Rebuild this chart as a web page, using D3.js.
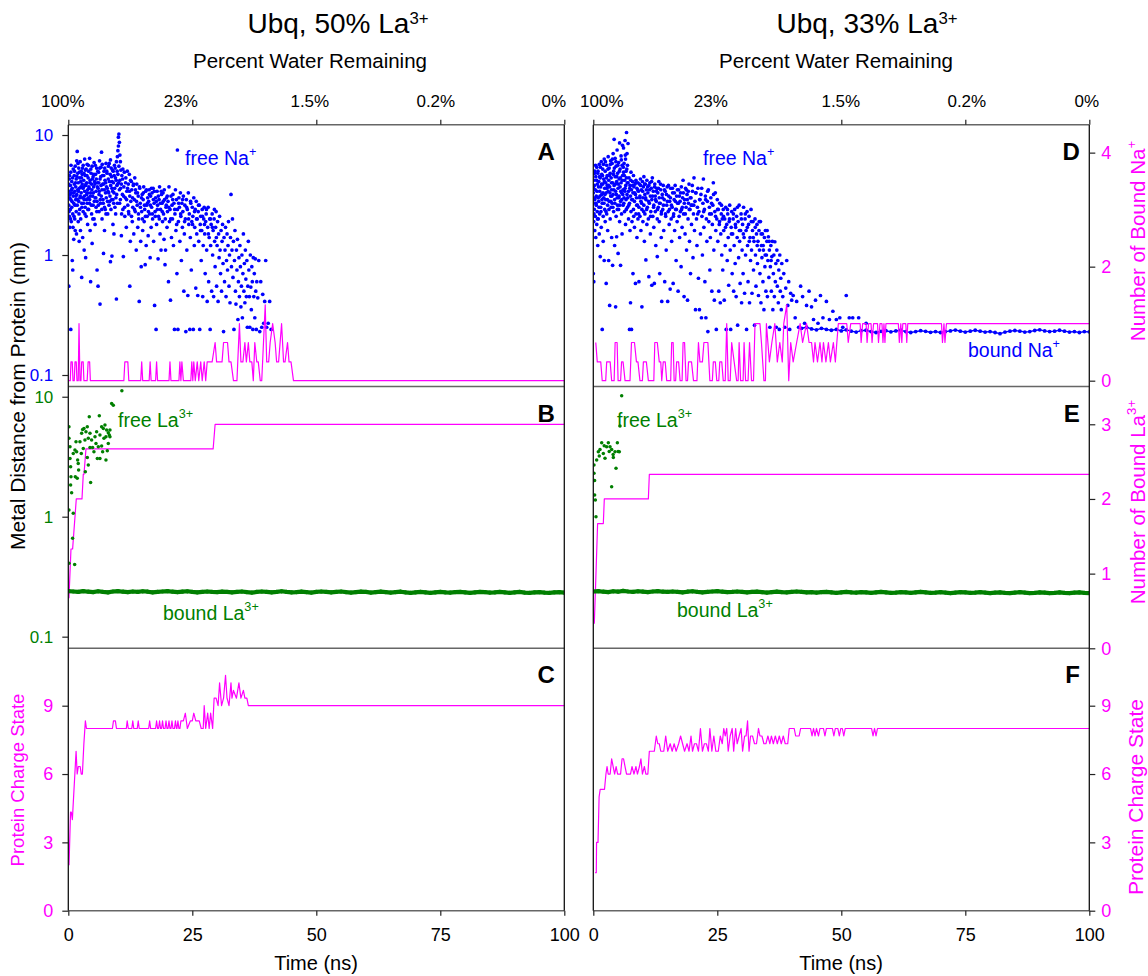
<!DOCTYPE html>
<html><head><meta charset="utf-8">
<script src="https://cdn.jsdelivr.net/npm/d3@7"></script>
<style>body{margin:0;background:#fff}svg{display:block}text{font-family:"Liberation Sans",Arial,Helvetica,sans-serif}</style>
</head><body><svg id="chart" width="1148" height="976"></svg>
<script>
// ---------------- DATA ----------------
const xTicks = [0, 25, 50, 75, 100];
const waterLabels = ["100%", "23%", "1.5%", "0.2%", "0%"];
const distTicks = [0.1, 1, 10];
const naCountTicks = [0, 2, 4];
const laCountTicks = [0, 1, 2, 3];
const chargeTicks = [0, 3, 6, 9];

// Panel A: free Na+ distance (nm) vs time (ns), 50% La3+
const naFreeA = [[0.1,2.6],[0.1,3.4],[0.1,0.55],[0.2,2.1],[0.2,4.3],[0.3,1.7],[0.3,3.0],[0.4,2.4],[0.4,3.8],[0.5,0.24],[0.5,2.9],[0.5,4.9],[0.6,1.9],[0.6,3.3],[0.7,2.5],[0.7,4.1],[0.8,0.9],[0.8,3.6],[0.9,2.2],[0.9,0.75],[1.0,3.1],[1.0,5.2],
[1.1,1.35],[1.1,2.7],[1.2,3.9],[1.2,4.6],[1.3,2.0],[1.3,3.4],[1.4,1.6],[1.4,5.5],[1.5,2.9],[1.5,3.7],[1.6,2.3],[1.6,4.3],[1.7,3.2],[1.7,6.1],[1.8,7.3],[1.8,2.6],[1.9,4.8],[1.9,3.5],[2.0,1.9],[2.0,4.0],
[2.1,2.8],[2.1,5.3],[2.2,3.6],[2.2,1.3],[2.3,4.4],[2.3,2.4],[2.4,3.1],[2.4,6.0],[2.5,4.1],[2.5,2.0],[2.6,3.3],[2.6,5.0],[2.7,0.65],[2.7,2.7],[2.8,4.7],[2.8,3.9],[2.9,1.4],[2.9,3.0],[3.0,5.6],[3.0,2.3],
[3.1,3.7],[3.1,4.2],[3.2,1.1],[3.2,2.9],[3.3,6.3],[3.3,3.4],[3.4,2.5],[3.4,4.6],[3.5,0.95],[3.5,3.8],[3.6,5.2],[3.6,2.1],[3.7,3.2],[3.7,4.0],[3.8,2.7],[3.8,5.7],[3.9,3.5],[3.9,1.8],[4.0,4.4],[4.0,3.0],
[4.1,2.4],[4.1,5.0],[4.2,3.6],[4.3,6.4],[4.3,2.9],[4.4,4.2],[4.4,1.6],[4.5,0.6],[4.5,3.3],[4.6,4.8],[4.7,2.2],[4.7,3.9],[4.8,5.5],[4.8,1.25],[4.9,3.1],[5.0,4.5],[5.0,2.6],
[5.1,3.7],[5.2,5.9],[5.2,2.0],[5.3,4.1],[5.4,3.0],[5.4,1.8],[5.5,4.7],[5.6,2.5],[5.6,3.4],[5.7,5.3],[5.8,0.75],[5.8,2.8],[5.9,4.0],[6.0,0.55],[6.0,3.6],
[6.1,4.9],[6.2,2.3],[6.2,3.2],[6.3,6.1],[6.4,0.39],[6.4,4.3],[6.5,2.7],[6.6,3.8],[6.6,5.4],[6.7,7.2],[6.8,2.0],[6.8,3.5],[6.9,4.6],[7.0,2.9],
[7.1,1.03],[7.1,3.9],[7.2,5.0],[7.3,1.6],[7.3,2.5],[7.4,4.2],[7.5,3.3],[7.6,5.8],[7.6,2.2],[7.7,3.7],[7.8,4.8],[7.9,2.8],[8.0,3.4],
[8.1,5.5],[8.2,2.6],[8.3,4.1],[8.4,3.1],[8.5,6.2],[8.5,0.88],[8.6,2.4],[8.7,4.5],[8.8,0.98],[8.8,3.6],[8.9,5.1],[9.0,1.8],[9.0,2.9],
[9.1,4.0],[9.2,1.5],[9.2,3.3],[9.3,5.6],[9.4,2.5],[9.5,4.4],[9.6,3.0],[9.7,6.0],[9.7,0.43],[9.8,3.8],[9.9,6.6],[9.9,2.7],[10.0,7.4],[10.0,4.7],
[10.1,8.1],[10.1,9.6],[10.2,10.2],[10.2,5.5],[10.3,8.7],[10.3,3.5],[10.4,6.8],[10.4,4.2],[10.5,6.0],[10.5,2.9],[10.6,5.1],[10.7,3.9],[10.7,1.45],[10.8,4.6],[10.9,3.2],[11.0,2.4],[11.0,5.2],
[11.1,0.97],[11.2,3.7],[11.3,4.9],[11.4,2.1],[11.5,3.0],[11.6,4.4],[11.7,1.7],[11.8,3.4],[11.9,5.0],[12.0,2.6],
[12.1,3.9],[12.2,2.2],[12.3,4.7],[12.4,0.55],[12.4,3.1],[12.5,1.3],[12.6,2.8],[12.7,4.1],[12.8,3.5],[12.9,1.9],[13.0,2.5],
[13.1,3.8],[13.2,1.5],[13.3,2.9],[13.4,4.4],[13.5,2.3],[13.6,3.3],[13.7,1.1],[13.8,3.9],[13.9,2.6],[14.0,1.7],
[14.1,3.1],[14.2,2.0],[14.3,0.41],[14.4,3.6],[14.5,2.7],[14.6,1.3],[14.7,0.8],[14.8,2.3],[14.9,3.2],[15.0,1.6],
[15.1,2.9],[15.2,3.7],[15.3,1.9],[15.4,2.4],[15.5,0.83],[15.6,3.4],[15.7,1.2],[15.8,2.6],[15.9,2.1],[16.0,3.0],
[16.1,1.45],[16.2,2.8],[16.3,3.5],[16.4,2.2],[16.5,0.95],[16.6,3.1],[16.7,1.7],[16.8,2.5],[16.9,3.3],[17.0,2.0],
[17.1,3.6],[17.2,1.3],[17.3,2.7],[17.4,0.38],[17.5,2.3],[17.6,3.0],[17.7,0.24],[17.8,1.8],[17.9,3.4],[18.0,2.6],
[18.1,0.93],[18.2,2.1],[18.3,2.9],[18.4,3.7],[18.5,1.5],[18.6,2.4],[18.7,1.1],[18.8,3.2],[18.9,2.7],[19.0,1.9],
[19.1,3.3],[19.2,2.2],[19.3,1.35],[19.4,2.9],[19.5,0.83],[19.6,1.1],[19.7,2.5],[19.8,3.0],[19.9,1.7],[20.0,2.3],
[20.1,2.8],[20.2,0.6],[20.3,3.7],[20.4,1.9],[20.5,2.4],[20.6,0.42],[20.7,3.1],[20.8,1.4],[20.9,2.6],[21.0,2.0],
[21.1,3.2],[21.2,1.2],[21.3,2.7],[21.4,0.24],[21.5,2.2],[21.6,3.5],[21.7,1.6],[21.8,2.9],[21.9,0.7],[22.0,2.4],[22.0,7.5],
[22.1,0.24],[22.2,1.9],[22.3,3.0],[22.4,2.5],[22.5,1.3],[22.6,3.3],[22.7,2.1],[22.8,0.9],[22.9,2.7],[23.0,1.7],
[23.1,2.3],[23.2,3.1],[23.3,0.5],[23.4,1.5],[23.5,2.6],[23.6,2.0],[23.7,0.23],[23.8,2.9],[23.9,1.1],[24.0,2.4],
[24.1,0.46],[24.2,3.3],[24.3,1.8],[24.4,2.2],[24.5,0.24],[24.6,1.4],[24.7,2.7],[24.8,0.75],[24.9,1.9],[25.0,2.5],
[25.1,2.1],[25.2,0.24],[25.3,3.0],[25.4,1.2],[25.5,1.7],[25.6,2.4],[25.7,0.53],[25.8,2.8],[25.9,1.5],[26.0,2.0],
[26.1,0.46],[26.2,2.3],[26.3,1.3],[26.4,2.6],[26.5,0.24],[26.6,1.8],[26.7,2.1],[26.8,0.9],[26.9,1.6],[27.0,2.4],
[27.1,0.45],[27.2,1.2],[27.3,2.0],[27.4,2.5],[27.5,1.5],[27.6,0.7],[27.7,1.9],[27.8,2.2],[27.9,1.1],[28.0,0.41],
[28.1,1.7],[28.2,2.5],[28.3,0.6],[28.4,1.4],[28.5,2.0],[28.6,0.24],[28.7,1.2],[28.8,1.8],[28.9,0.5],[29.0,2.2],
[29.1,1.0],[29.2,1.6],[29.3,0.45],[29.4,2.0],[29.5,1.3],[29.6,0.8],[29.7,1.7],[29.8,2.3],[29.9,0.55],[30.0,1.2],
[30.1,1.9],[30.2,0.41],[30.3,1.5],[30.4,0.95],[30.5,2.1],[30.6,1.1],[30.7,0.7],[30.8,1.6],[30.9,0.5],[31.0,1.3],
[31.1,1.8],[31.2,0.85],[31.3,0.23],[31.4,1.4],[31.5,0.6],[31.6,1.1],[31.7,1.7],[31.8,0.45],[31.9,0.9],[32.0,1.5],
[32.1,0.75],[32.2,1.2],[32.3,1.9],[32.4,0.55],[32.5,1.0],[32.6,0.4],[32.7,1.4],[32.8,3.2],[32.9,0.8],[33.0,1.1],
[33.1,2.0],[33.2,0.65],[33.3,1.3],[33.4,0.24],[33.5,0.9],[33.6,1.6],[33.7,0.5],[33.8,0.39],[33.9,1.1],[34.0,0.75],
[34.1,1.35],[34.2,0.29],[34.3,0.6],[34.4,0.95],[34.5,0.45],[34.6,1.2],[34.7,0.8],[34.8,0.37],[34.9,0.55],[35.0,1.0],
[35.1,0.3],[35.2,0.7],[35.3,1.5],[35.4,0.5],[35.5,0.85],[35.6,0.4],[35.7,1.1],[35.8,0.63],[35.9,0.45],[36.0,0.9],
[36.1,0.25],[36.2,0.55],[36.3,1.3],[36.4,0.75],[36.5,0.45],[36.6,0.25],[36.7,1.0],[36.8,0.54],[36.9,0.35],[37.0,0.8],
[37.1,0.6],[37.2,0.24],[37.3,0.95],[37.4,0.45],[37.5,0.7],[37.6,0.3],[37.7,0.93],[37.8,0.5],[37.9,0.24],[38.0,0.6],
[38.2,0.44],[38.4,0.9],[38.6,0.23],[38.8,0.6],[39.0,0.25],[39.2,0.47],[39.4,0.27],[39.6,0.41],[39.8,0.9],[40.0,0.25],[40.3,0.27],[40.6,0.41],[40.9,0.24],
[0.05,3.9],[0.15,2.3],[0.25,4.6],[0.35,3.2],[0.45,2.0],[0.55,5.6],[0.65,3.5],[0.75,2.8],[0.85,4.4],[0.95,1.7],[1.05,3.3],[1.15,2.1],[1.25,5.0],[1.35,2.6],[1.45,4.0],[1.55,3.1],[1.65,1.5],[1.75,4.5],[1.85,2.9],[1.95,5.8],
[2.05,3.4],[2.15,2.2],[2.25,4.9],[2.35,3.0],[2.45,1.6],[2.55,3.7],[2.65,4.4],[2.75,2.5],[2.85,5.3],[2.95,3.6],[3.05,2.7],[3.15,4.8],[3.25,3.1],[3.35,2.2],[3.45,5.1],[3.55,3.9],[3.65,2.9],[3.75,4.6],[3.85,3.3],[3.95,2.4],
[4.05,5.6],[4.15,3.7],[4.25,2.7],[4.35,4.0],[4.45,3.1],[4.55,5.2],[4.65,2.6],[4.75,3.5],[4.85,4.3],[4.95,2.0],[5.05,3.3],[5.15,4.7],[5.25,2.8],[5.35,3.9],[5.45,5.6],[5.55,3.0],[5.65,4.3],[5.75,2.3],[5.85,3.7],[5.95,5.0],
[6.05,2.6],[6.15,4.0],[6.25,3.4],[6.35,5.3],[6.45,2.9],[6.55,4.5],[6.65,3.1],[6.75,2.4],[6.85,5.7],[6.95,3.9],[7.05,2.7],[7.15,4.6],[7.25,3.5],[7.35,5.3],[7.45,2.4],[7.55,4.0],[7.65,3.0],[7.75,5.0],[7.85,3.6],[7.95,2.2],
[8.05,4.3],[8.15,3.3],[8.25,5.8],[8.35,2.8],[8.45,4.7],[8.55,3.8],[8.65,5.3],[8.75,2.9],[8.85,4.1],[8.95,3.4],[9.05,5.0],[9.15,2.7],[9.25,4.6],[9.35,3.6],[9.45,5.3],[9.55,2.2],[9.65,4.2],[9.75,3.2],[9.85,5.0],[9.95,3.9],
[10.15,4.0],[10.35,2.7],[10.55,3.6],[10.75,2.2],[10.95,4.3],[11.15,3.1],[11.35,2.5],[11.55,4.0],[11.75,2.9],[11.95,3.6],[12.15,2.3],[12.35,3.4],[12.55,4.2],[12.75,2.1],[12.95,3.0],[13.15,3.9],[13.35,2.4],[13.55,3.5],[13.75,2.8],[13.95,3.3],
[14.15,2.2],[14.35,3.7],[14.55,2.5],[14.75,3.0],[14.95,2.0],[15.15,3.3],[15.35,2.6],[15.55,2.1],[15.75,3.5],[15.95,2.7],[16.15,2.3],[16.35,3.2],[16.55,2.6],[16.75,3.6],[16.95,2.2],[17.15,2.9],[17.35,3.4],[17.55,2.1],[17.75,2.8],[17.95,2.4],
[18.15,3.1],[18.35,2.0],[18.55,2.7],[18.75,3.4],[18.95,2.3],[19.15,2.8],[19.35,3.5],[19.55,2.0],[19.75,2.6],[19.95,3.1],
[20.25,2.5],[20.65,2.0],[21.05,2.9],[21.45,2.4],[21.85,1.8],[22.25,2.7],[22.65,2.2],[23.05,2.9],[23.45,1.9],[23.85,2.5],[24.25,2.0],[24.65,2.8],[25.05,1.8],[25.45,2.3],[25.85,2.0],[26.25,2.6],[26.65,1.6],[27.05,2.1],[27.45,1.8],[27.85,2.4],[28.25,1.5],[28.65,2.0],[29.05,1.7],[29.45,2.4],[29.85,1.4]];

// Panel D: free Na+ distance (nm) vs time (ns), 33% La3+
const naFreeD = [[0.0,2.7],[0.0,3.3],[0.0,0.7],[0.1,1.9],[0.1,4.2],[0.1,0.6],[0.2,2.4],[0.2,3.8],[0.3,1.6],[0.3,2.9],[0.3,5.0],[0.4,3.5],[0.4,2.1],[0.5,4.5],[0.5,1.4],[0.6,2.6],[0.6,3.1],[0.7,5.4],[0.7,1.8],[0.8,3.9],[0.8,2.3],[0.9,4.8],[0.9,1.2],[1.0,3.0],[1.0,2.0],
[1.1,4.1],[1.1,2.8],[1.2,5.7],[1.2,1.5],[1.3,3.4],[1.3,2.2],[1.4,0.97],[1.4,4.4],[1.5,3.7],[1.5,2.5],[1.6,6.0],[1.6,1.7],[1.7,3.2],[1.7,4.7],[1.8,0.24],[1.8,2.7],[1.9,3.9],[1.9,5.2],[2.0,2.1],[2.0,1.3],
[2.1,4.3],[2.1,3.0],[2.2,0.9],[2.2,6.3],[2.3,2.4],[2.3,3.6],[2.4,5.0],[2.4,1.9],[2.5,4.0],[2.5,2.9],[2.6,0.58],[2.6,3.3],[2.7,5.6],[2.7,2.2],[2.8,4.6],[2.8,3.8],[2.9,1.6],[2.9,2.6],[3.0,6.6],[3.0,3.4],
[3.1,4.2],[3.1,0.9],[3.2,2.8],[3.2,5.3],[3.3,3.7],[3.3,0.38],[3.4,2.0],[3.4,4.8],[3.5,3.1],[3.5,6.1],[3.6,2.5],[3.6,4.4],[3.7,1.4],[3.7,3.5],[3.8,5.8],[3.8,2.7],[3.9,4.0],[3.9,0.82],[4.0,3.2],[4.0,7.0],
[4.1,2.3],[4.1,5.0],[4.2,3.8],[4.2,9.2],[4.3,2.9],[4.3,1.2],[4.4,4.5],[4.4,6.4],[4.5,3.4],[4.5,0.37],[4.6,2.1],[4.6,5.5],[4.7,4.1],[4.7,1.42],[4.8,3.0],[4.8,7.5],[4.9,2.6],[4.9,4.8],[5.0,3.6],[5.0,1.03],
[5.1,5.9],[5.1,2.4],[5.2,4.3],[5.2,3.1],[5.3,8.6],[5.3,1.9],[5.4,5.2],[5.4,3.7],[5.5,2.8],[5.5,0.82],[5.6,6.7],[5.6,4.0],[5.7,3.3],[5.7,2.2],[5.8,5.6],[5.8,1.5],[5.9,4.6],[5.9,8.2],[6.0,3.5],[6.0,2.6],
[6.1,7.8],[6.1,4.9],[6.2,3.0],[6.2,5.8],[6.3,2.3],[6.3,4.2],[6.4,9.0],[6.4,3.6],[6.5,6.3],[6.5,1.8],[6.6,5.0],[6.6,2.9],[6.7,10.5],[6.7,4.4],[6.8,7.0],[6.8,3.2],[6.9,5.6],[6.9,2.5],[7.0,8.5],[7.0,4.0],
[7.1,3.4],[7.1,2.0],[7.2,4.4],[7.3,2.7],[7.3,0.24],[7.4,3.8],[7.4,1.6],[7.5,3.1],[7.5,0.4],[7.6,4.9],[7.6,2.3],[7.7,0.24],[7.7,3.5],[7.8,1.9],[7.9,2.9],[7.9,4.1],[8.0,0.7],[8.0,3.3],
[8.1,2.4],[8.1,4.6],[8.2,3.7],[8.3,1.7],[8.3,2.8],[8.4,3.9],[8.5,0.58],[8.5,3.2],[8.6,2.2],[8.6,4.2],[8.7,3.0],[8.8,1.4],[8.8,3.6],[8.9,2.6],[9.0,4.0],[9.0,2.0],
[9.1,3.4],[9.2,2.5],[9.2,0.6],[9.3,3.9],[9.4,2.1],[9.4,3.1],[9.5,4.3],[9.6,1.6],[9.6,2.8],[9.7,3.5],[9.8,0.37],[9.8,2.4],[9.9,4.1],[10.0,3.0],[10.0,1.9],
[10.1,3.7],[10.2,2.6],[10.2,4.5],[10.3,1.3],[10.4,3.2],[10.4,2.2],[10.5,3.9],[10.6,0.91],[10.6,2.9],[10.7,3.5],[10.8,1.8],[10.8,4.2],[10.9,2.5],[11.0,3.3],
[11.1,2.0],[11.2,3.8],[11.2,0.66],[11.3,2.7],[11.4,4.0],[11.5,1.5],[11.5,3.1],[11.6,2.3],[11.7,3.6],[11.8,0.56],[11.8,2.9],[11.9,4.4],[12.0,2.1],
[12.1,3.4],[12.2,1.7],[12.2,2.6],[12.3,0.58],[12.4,3.9],[12.5,2.3],[12.5,3.1],[12.6,1.2],[12.7,2.8],[12.8,3.6],[12.9,0.97],[12.9,2.0],[13.0,3.3],
[13.1,2.5],[13.2,4.1],[13.3,1.9],[13.3,3.0],[13.4,0.7],[13.5,2.7],[13.6,3.5],[13.7,1.4],[13.7,2.2],[13.8,0.41],[13.9,3.2],[14.0,2.4],
[14.1,3.8],[14.2,1.6],[14.3,2.9],[14.4,0.6],[14.5,3.4],[14.6,2.1],[14.7,1.1],[14.8,2.6],[14.9,3.7],[15.0,0.41],
[15.1,2.3],[15.2,3.1],[15.3,1.8],[15.4,2.8],[15.5,0.52],[15.6,3.6],[15.7,2.0],[15.8,1.3],[15.9,2.5],[16.0,3.3],
[16.1,0.58],[16.2,2.2],[16.3,2.9],[16.4,1.6],[16.5,3.8],[16.6,2.4],[16.7,0.9],[16.8,3.1],[16.9,1.9],[17.0,2.7],
[17.1,0.5],[17.2,3.5],[17.3,2.1],[17.4,1.4],[17.5,2.8],[17.6,3.3],[17.7,0.8],[17.8,2.4],[17.9,1.7],[18.0,3.0],
[18.1,4.2],[18.2,2.2],[18.3,0.45],[18.4,2.9],[18.5,1.5],[18.6,3.6],[18.7,2.5],[18.8,1.1],[18.9,3.2],[19.0,0.42],
[19.1,2.0],[19.2,2.7],[19.3,3.9],[19.4,1.3],[19.5,2.4],[19.6,0.7],[19.7,3.0],[19.8,1.8],[19.9,2.6],[20.0,3.4],
[20.1,0.95],[20.2,2.2],[20.3,4.4],[20.4,1.6],[20.5,2.8],[20.6,0.35],[20.7,3.3],[20.8,2.0],[20.9,1.2],[21.0,2.5],
[21.1,3.6],[21.2,0.64],[21.3,2.3],[21.4,0.35],[21.5,2.9],[21.6,1.5],[21.7,3.2],[21.8,0.3],[21.9,2.1],[22.0,1.0],
[22.1,2.7],[22.2,4.3],[22.3,1.7],[22.4,2.4],[22.5,0.6],[22.6,3.1],[22.7,0.3],[22.8,2.0],[22.9,1.3],[23.0,2.8],
[23.1,0.23],[23.2,3.5],[23.3,1.9],[23.4,2.5],[23.5,0.75],[23.6,1.4],[23.7,3.0],[23.8,2.2],[23.9,0.5],[24.0,1.8],
[24.1,2.6],[24.2,4.0],[24.3,1.1],[24.4,0.42],[24.5,2.3],[24.6,3.3],[24.7,1.6],[24.8,0.24],[24.9,2.0],[25.0,2.9],
[25.1,1.3],[25.2,2.4],[25.3,0.5],[25.4,1.8],[25.5,2.7],[25.6,0.4],[25.7,1.5],[25.8,2.2],[25.9,1.0],[26.0,2.0],
[26.1,0.75],[26.2,2.4],[26.3,1.6],[26.4,0.42],[26.5,2.0],[26.6,1.2],[26.7,2.5],[26.8,0.24],[26.9,1.8],[27.0,0.9],
[27.1,2.2],[27.2,1.4],[27.3,0.56],[27.4,1.9],[27.5,2.6],[27.6,1.1],[27.7,0.24],[27.8,1.7],[27.9,2.3],[28.0,0.7],
[28.1,1.5],[28.2,2.0],[28.3,0.5],[28.4,1.2],[28.5,2.4],[28.6,0.85],[28.7,1.7],[28.8,0.45],[28.9,2.1],[29.0,1.4],
[29.1,0.26],[29.2,1.9],[29.3,0.95],[29.4,2.6],[29.5,1.3],[29.6,0.58],[29.7,1.6],[29.8,2.2],[29.9,0.4],[30.0,1.1],
[30.1,1.8],[30.2,0.7],[30.3,2.5],[30.4,1.4],[30.5,0.48],[30.6,2.0],[30.7,1.0],[30.8,1.6],[30.9,0.24],[31.0,2.3],
[31.1,1.2],[31.2,0.6],[31.3,1.8],[31.4,2.1],[31.5,0.4],[31.6,1.4],[31.7,0.9],[31.8,2.4],[31.9,1.1],[32.0,0.48],
[32.1,1.6],[32.2,1.9],[32.3,0.75],[32.4,1.3],[32.5,0.26],[32.6,2.0],[32.7,1.0],[32.8,0.55],[32.9,1.5],[33.0,1.8],
[33.1,0.85],[33.2,1.3],[33.3,0.46],[33.4,1.6],[33.5,1.1],[33.6,0.7],[33.7,1.9],[33.8,0.4],[33.9,1.2],[34.0,0.95],
[34.1,1.5],[34.2,0.6],[34.3,1.1],[34.4,0.35],[34.5,1.4],[34.6,0.8],[34.7,1.6],[34.8,0.5],[34.9,1.0],[35.0,1.3],
[35.1,0.45],[35.2,0.9],[35.3,1.42],[35.4,0.65],[35.5,1.1],[35.6,0.25],[35.7,0.8],[35.8,1.2],[35.9,0.5],[36.0,0.97],
[36.1,1.3],[36.2,0.35],[36.3,0.7],[36.4,1.0],[36.5,0.45],[36.6,1.29],[36.7,0.6],[36.8,0.85],[36.9,0.25],[37.0,1.1],
[37.1,0.55],[37.2,0.9],[37.3,0.4],[37.4,0.75],[37.5,0.24],[37.6,1.0],[37.7,0.5],[37.8,0.64],[37.9,0.35],[38.0,0.85],
[38.2,0.45],[38.4,0.7],[38.6,0.25],[38.8,0.53],[39.0,0.9],[39.2,0.38],[39.4,0.6],[39.6,0.24],[39.8,0.48],[40.0,0.42],
[40.3,0.46],[40.7,0.3],[41.0,0.41],[41.4,0.25],[41.8,0.55],[42.2,0.45],[42.6,0.27],[43.0,0.38],[43.5,0.5],[44.0,0.37],[44.4,0.29],[44.8,0.42],
[45.3,0.27],[45.8,0.46],[46.3,0.3],[47.0,0.41],[47.6,0.29],[48.3,0.34],[49.0,0.29],[49.7,0.3],[50.3,0.25],[51.0,0.46],[51.6,0.3],[52.3,0.3],[53.5,0.3],[55.0,0.27],
[0.05,3.6],[0.15,2.2],[0.25,4.8],[0.35,3.0],[0.45,5.6],[0.55,2.7],[0.65,4.2],[0.75,3.4],[0.85,2.0],[0.95,5.0],[1.05,3.7],[1.15,2.5],[1.25,4.5],[1.35,3.1],[1.45,5.4],[1.55,2.3],[1.65,3.9],[1.75,2.9],[1.85,4.6],[1.95,3.3],
[2.05,5.7],[2.15,2.7],[2.25,4.1],[2.35,3.2],[2.45,6.0],[2.55,2.3],[2.65,4.4],[2.75,3.6],[2.85,2.9],[2.95,5.2],[3.05,3.8],[3.15,2.4],[3.25,4.6],[3.35,3.3],[3.45,5.7],[3.55,2.8],[3.65,4.0],[3.75,3.1],[3.85,6.3],[3.95,2.5],
[4.05,4.7],[4.15,3.5],[4.25,5.3],[4.35,2.7],[4.45,3.9],[4.55,6.0],[4.65,3.2],[4.75,4.5],[4.85,2.4],[4.95,5.6],[5.05,3.9],[5.15,3.0],[5.25,5.0],[5.35,2.6],[5.45,4.4],[5.55,3.4],[5.65,6.2],[5.75,2.9],[5.85,4.2],[5.95,3.2],
[6.05,5.4],[6.15,2.7],[6.25,4.6],[6.35,3.4],[6.45,6.8],[6.55,3.8],[6.65,2.4],[6.75,5.2],[6.85,4.0],[6.95,3.0],
[7.15,2.6],[7.35,3.6],[7.55,4.2],[7.75,2.9],[7.95,3.8],[8.15,2.1],[8.35,3.3],[8.55,4.0],[8.75,2.6],[8.95,3.5],[9.15,2.2],[9.35,3.0],[9.55,3.8],[9.75,2.7],[9.95,3.4],[10.15,2.3],[10.35,3.9],[10.55,3.0],[10.75,2.4],[10.95,3.7],
[11.15,2.8],[11.35,3.5],[11.55,2.1],[11.75,4.1],[11.95,3.1],[12.15,2.5],[12.35,3.7],[12.55,2.9],[12.75,3.4],[12.95,2.4],[13.15,3.6],[13.35,2.7],[13.55,3.9],[13.75,2.3],[13.95,3.0],[14.15,2.6],[14.35,3.5],[14.55,2.2],[14.75,3.2],[14.95,2.8],
[15.15,3.8],[15.35,2.4],[15.55,3.0],[15.75,2.6],[15.95,3.6],[16.15,2.1],[16.35,3.3],[16.55,2.8],[16.75,2.4],[16.95,3.5],[17.15,2.7],[17.35,3.1],[17.55,2.3],[17.75,3.7],[17.95,2.5],[18.15,3.3],[18.35,2.7],[18.55,2.2],[18.75,3.5],[18.95,2.9],
[19.15,3.4],[19.35,2.4],[19.55,3.0],[19.75,2.6],[19.95,3.8],
[20.25,2.6],[20.65,3.3],[21.05,2.2],[21.45,2.9],[21.85,3.6],[22.25,2.3],[22.65,2.9],[23.05,3.4],[23.45,2.2],[23.85,2.7],[24.25,3.2],[24.65,2.1],[25.05,2.4],[25.45,1.9],[25.85,2.6],[26.25,2.1],[26.65,1.7],[27.05,2.4],[27.45,2.0],[27.85,1.5],
[28.25,2.2],[28.65,1.8],[29.05,2.5],[29.45,1.6],[29.85,2.0],[30.25,1.5],[30.65,2.2],[31.05,1.7],[31.45,1.3],[31.85,1.9],[32.25,1.4],[32.65,1.7],[33.05,1.2],[33.45,1.9],[33.85,1.5],[34.25,1.2],[34.65,1.0],[35.05,1.6],[35.45,1.3],[35.85,0.9]];

// Panel D: bound Na+ distance (nm), one value per ns starting at 42 ns
const naBoundStart = 42;
const naBoundD = [0.245,0.25,0.242,0.238,0.245,0.24,0.236,0.24,0.233,0.238,0.232,0.228,0.234,0.236,0.23,0.226,0.231,0.234,0.229,0.233,0.236,0.23,0.226,0.23,0.234,0.231,0.227,0.23,0.226,0.23,0.233,0.237,0.232,0.228,0.232,0.236,0.232,0.228,0.23,0.226,0.221,0.228,0.232,0.235,0.232,0.228,0.23,0.235,0.238,0.233,0.23,0.232,0.236,0.232,0.228,0.23,0.226,0.23,0.229];

// Panel B / E: free La3+ distance (nm)
const laFreeB = [[0.13,5.62],[0.13,4.5],[0.34,3.83],[0.34,3.06],[0.47,2.61],[0.54,2.15],[0.47,1.84],[0.67,1.58],[0.13,1.14],[1.0,1.07],[0.87,0.66],[0.13,0.41],[1.28,0.4],[1.0,3.37],[1.34,3.6],[1.68,3.48],[1.88,2.97],[2.0,2.78],[1.8,2.09],[2.35,4.22],[2.69,4.95],[2.89,5.34],[3.16,5.44],[3.56,5.11],[3.83,5.62],[4.23,6.81],[4.03,4.5],[4.37,4.95],[4.7,4.36],[4.9,3.78],[4.37,3.78],[3.83,3.12],[4.03,2.7],[4.5,1.93],[5.38,4.64],[5.71,5.11],[6.25,6.95],[6.38,4.8],[6.72,5.62],[7.06,5.44],[7.39,5.8],[7.73,5.28],[8.06,5.01],[8.27,4.8],[7.59,4.64],[7.19,4.5],[6.72,3.88],[6.05,3.83],[5.85,3.06],[6.38,3.06],[7.59,2.97],[7.86,3.55],[8.4,5.28],[8.74,8.8],[9.07,8.5],[10.8,11.2],[1.55,4.22],[2.08,2.45],[2.62,3.37],[3.02,3.71],[3.36,4.36],[5.17,3.48],[5.58,4.08],[6.92,3.48],[8.06,4.08],[8.4,4.64],[1.41,2.15],[3.43,2.37]];
const laFreeE = [[0.14,2.7],[0.14,2.3],[0.27,2.0],[0.27,1.52],[0.41,1.38],[0.54,1.0],[0.68,2.97],[1.01,3.48],[1.35,3.64],[1.69,4.14],[2.02,3.37],[2.36,3.07],[2.69,3.83],[3.03,4.14],[3.37,3.83],[3.7,3.64],[4.04,3.12],[4.37,3.48],[4.58,2.53],[4.85,4.14],[5.25,3.48],[5.38,5.7],[5.72,10.2],[3.7,1.78],[1.2,3.2],[2.2,3.9],[3.2,3.5],[4.0,3.3],[5.0,3.5]];

// Panel B / E: bound La3+ distance (nm), one value per ns from 0 to 100 ns
const laBoundB = [0.24,0.238,0.236,0.24,0.237,0.235,0.239,0.236,0.234,0.238,0.24,0.237,0.235,0.238,0.236,0.239,0.237,0.234,0.236,0.238,0.24,0.237,0.235,0.237,0.239,0.236,0.234,0.236,0.238,0.236,0.235,0.237,0.236,0.234,0.236,0.238,0.235,0.233,0.236,0.238,0.236,0.234,0.236,0.239,0.236,0.234,0.235,0.237,0.235,0.233,0.236,0.238,0.236,0.234,0.236,0.238,0.235,0.233,0.235,0.237,0.236,0.233,0.235,0.237,0.235,0.233,0.235,0.237,0.234,0.232,0.234,0.236,0.234,0.232,0.234,0.236,0.234,0.233,0.235,0.236,0.234,0.232,0.234,0.236,0.235,0.233,0.234,0.236,0.234,0.232,0.234,0.236,0.233,0.232,0.234,0.235,0.233,0.232,0.234,0.235,0.233];
const laBoundE = [0.238,0.24,0.237,0.235,0.239,0.237,0.241,0.238,0.236,0.239,0.237,0.235,0.238,0.24,0.237,0.236,0.238,0.236,0.234,0.237,0.239,0.236,0.234,0.236,0.238,0.24,0.237,0.235,0.236,0.238,0.236,0.234,0.236,0.237,0.235,0.233,0.235,0.237,0.235,0.234,0.236,0.238,0.236,0.234,0.235,0.233,0.235,0.236,0.234,0.232,0.234,0.236,0.234,0.233,0.235,0.234,0.232,0.234,0.236,0.234,0.232,0.233,0.235,0.234,0.232,0.234,0.236,0.234,0.232,0.233,0.235,0.233,0.231,0.233,0.235,0.234,0.232,0.233,0.235,0.233,0.231,0.233,0.234,0.232,0.231,0.233,0.235,0.233,0.231,0.232,0.234,0.233,0.231,0.232,0.234,0.232,0.231,0.233,0.234,0.232,0.231];

// Number of bound Na+ (right axis of top row)
const naCountA = [[0.1,0],[0.4,0],[0.54,0.33],[0.8,0.33],[0.95,0],[1.2,0],[1.35,0.33],[1.6,0.33],[1.75,0],[2.0,0],[2.16,1.0],[2.35,0],[2.55,0],[2.7,0.33],[3.0,0.33],[3.15,0],[3.8,0],[4.0,0.33],[4.3,0.33],[4.45,0],[11.2,0],[11.4,0.33],[12.0,0.33],[12.2,0],[14.6,0],[14.8,0.33],[15.0,0],[16.3,0],[16.5,0.33],[16.7,0],[17.6,0],[17.8,0.33],[18.0,0],[20.3,0],[20.5,0.33],[20.7,0],[22.3,0],[22.5,0.33],[22.7,0],[22.9,0.33],[23.2,0],[24.7,0],[24.9,0.33],[25.1,0],[25.3,0.33],[25.6,0],[26.0,0.33],[26.3,0],[26.7,0.33],[27.0,0],[27.4,0.33],[27.7,0],[28.0,0.33],[28.6,0.33],[29.0,0.33],[29.6,0.67],[29.9,0.33],[30.6,0.33],[31.0,0.33],[31.3,0.67],[32.1,0.67],[32.4,0.33],[32.8,0.33],[33.3,0],[34.0,0],[34.5,1.0],[34.8,0.33],[35.2,0.33],[35.6,0.67],[35.9,0.33],[36.3,0.67],[36.6,0.33],[37.0,0.33],[37.3,0],[37.6,0.67],[38.0,0.33],[38.3,0.33],[38.7,0],[39.0,0],[39.7,1.33],[40.0,0.33],[40.4,0.33],[40.7,0.67],[41.2,1.0],[41.7,0.67],[42.0,0.33],[42.4,0.33],[43.0,1.0],[43.4,0.33],[43.7,0.33],[44.2,0.67],[44.5,0.33],[44.9,0.33],[45.4,0],[100,0]];
const naCountD = [[0.5,0.67],[0.8,0.33],[1.5,0.33],[1.8,0],[2.5,0],[2.7,0.33],[3.4,0.33],[3.7,0],[4.2,0],[4.4,0.67],[4.8,0.67],[5.0,0],[5.5,0],[5.7,0.33],[6.0,0.33],[6.4,0],[7.4,0],[7.7,0.67],[8.3,0.67],[8.7,0.33],[9.0,0.33],[9.4,0],[9.9,0],[10.1,0.33],[10.7,0.33],[11.1,0],[12.2,0],[12.4,0.67],[12.9,0.67],[13.3,0.33],[13.6,0.33],[13.8,0],[14.1,0.33],[14.5,0.33],[14.8,0],[15.6,0],[15.8,0.67],[16.1,0.67],[16.3,0],[16.6,0],[16.8,0.33],[17.2,0.33],[17.5,0],[17.9,0],[18.1,0.67],[18.4,0.67],[18.7,0],[19.0,0],[19.2,0.33],[19.8,0.33],[20.2,0],[20.9,0],[21.2,0.67],[21.5,0.33],[22.0,0.33],[22.3,0.67],[23.1,0.67],[23.5,0],[24.0,0],[24.2,0.33],[24.6,0.33],[24.9,0],[25.3,0],[25.5,0.33],[25.9,0.33],[26.2,0],[26.6,0],[26.9,1.0],[27.2,0],[27.6,0],[27.9,0.67],[28.4,0.33],[28.9,0],[29.2,0],[29.4,0.67],[29.7,0],[30.2,0],[30.4,0.67],[30.7,0],[31.2,0],[31.5,0.67],[31.9,0],[32.3,0],[32.6,1.0],[33.6,1.0],[33.9,0.67],[34.4,0],[34.7,0],[34.9,1.0],[35.5,0.33],[36.0,0.67],[36.6,1.0],[37.1,0.33],[37.6,0.67],[38.1,0.33],[38.4,1.0],[39.0,1.33],[39.4,0],[39.8,0.67],[40.3,0.33],[41.0,0.67],[41.7,1.0],[42.2,0.67],[43.0,1.0],[43.5,0.67],[44.0,0.67],[44.4,0.33],[44.7,0.67],[45.2,0.33],[45.7,0.67],[46.1,0.33],[46.4,0.67],[46.9,0.33],[47.4,0.67],[47.8,0.33],[48.4,0.67],[48.8,0.33],[49.1,0.67],[49.4,1.0],[51.1,1.0],[51.4,0.67],[51.9,1.0],[53.8,1.0],[54.0,0.67],[54.3,1.0],[55.0,1.0],[55.2,0.67],[55.5,1.0],[56.0,1.0],[56.2,0.67],[56.5,1.0],[57.3,1.0],[57.5,0.67],[57.8,1.0],[58.2,1.0],[58.4,0.67],[58.6,1.0],[58.8,0.67],[59.0,1.0],[61.5,1.0],[61.7,0.67],[62.0,1.0],[62.2,0.67],[62.4,1.0],[63.0,1.0],[63.2,0.67],[63.4,1.0],[70.2,1.0],[70.4,0.67],[70.7,1.0],[70.9,0.67],[71.2,1.0],[100,1.0]];

// Number of bound La3+ (right axis of middle row)
const laCountB = [[0.13,0.67],[0.54,1.33],[0.87,1.33],[1.61,2.0],[2.76,2.0],[3.02,2.33],[3.16,2.33],[3.56,2.67],[29.2,2.67],[29.6,3.0],[100,3.0]];
const laCountE = [[0.2,0.33],[0.54,1.0],[0.87,1.67],[2.02,1.67],[2.22,2.0],[11.1,2.0],[11.3,2.33],[100,2.33]];

// Protein charge state
const chargeC = [[0.15,2],[0.45,4.33],[0.6,4.33],[0.82,4.0],[1.57,7.0],[1.79,6.0],[2.02,6.33],[2.39,6.33],[2.61,6.0],[2.84,6.0],[3.14,7.33],[3.44,8.33],[3.66,8.0],[8.89,8.0],[9.11,8.33],[9.49,8.33],[9.71,8.0],[11.7,8.0],[11.87,8.33],[12.1,8.0],[12.8,8.0],[13.0,8.33],[13.2,8.0],[13.9,8.0],[14.1,8.33],[14.3,8.0],[16.2,8.0],[16.4,8.33],[16.6,8.0],[17.6,8.0],[17.8,8.33],[18.0,8.0],[18.2,8.0],[18.4,8.33],[18.6,8.0],[18.8,8.0],[19.0,8.33],[19.2,8.0],[19.5,8.0],[19.7,8.33],[19.9,8.0],[20.1,8.0],[20.3,8.33],[20.5,8.0],[20.7,8.0],[20.9,8.33],[21.1,8.0],[21.4,8.0],[21.6,8.33],[21.8,8.0],[21.9,8.0],[22.1,8.33],[22.3,8.0],[22.5,8.0],[22.7,8.33],[23.2,8.33],[23.6,8.67],[24.0,8.0],[24.6,8.33],[25.0,8.33],[25.3,8.67],[25.7,8.33],[26.4,8.33],[26.8,8.0],[27.2,8.0],[27.4,9.0],[27.7,8.0],[28.1,8.67],[28.4,8.0],[28.7,8.67],[29.1,8.0],[29.4,9.33],[29.8,9.33],[30.2,9.0],[30.5,10.0],[30.9,9.0],[31.3,9.33],[31.7,10.33],[32.0,9.33],[32.4,9.0],[32.8,10.0],[33.0,9.33],[33.3,9.67],[33.9,9.33],[34.4,10.0],[34.8,9.33],[35.3,9.67],[35.6,9.33],[36.0,9.33],[36.3,9.0],[100,9.0]];
const chargeF = [[0.36,1.67],[0.6,1.67],[0.66,3.0],[0.95,3.0],[1.17,5.0],[1.39,5.33],[2.26,5.33],[2.55,6.0],[2.77,6.33],[3.0,6.0],[3.4,6.0],[3.7,6.67],[4.0,6.33],[4.3,6.0],[4.6,6.33],[4.9,6.0],[5.5,6.0],[5.8,6.67],[6.1,6.67],[6.4,6.33],[6.7,6.0],[7.5,6.0],[7.8,6.33],[8.2,6.0],[8.6,6.33],[8.9,6.0],[9.3,6.33],[9.6,6.67],[9.9,6.0],[10.3,6.33],[10.6,6.0],[11.0,6.0],[11.3,7.0],[12.3,7.0],[12.7,7.67],[13.0,7.33],[13.3,7.33],[13.6,7.0],[14.2,7.0],[14.6,7.67],[15.0,7.0],[15.5,7.33],[15.9,7.0],[16.3,7.33],[16.7,7.0],[17.2,7.33],[17.6,7.67],[18.0,7.33],[18.4,7.0],[18.9,7.33],[19.3,7.0],[19.7,7.67],[20.0,7.0],[20.4,7.33],[20.8,7.33],[21.2,7.0],[21.6,8.0],[22.0,7.0],[22.4,7.33],[22.8,7.33],[23.2,7.0],[23.5,8.0],[23.9,7.0],[24.3,7.67],[24.7,7.0],[25.2,7.0],[25.6,7.67],[26.0,7.33],[26.3,8.0],[26.6,7.67],[26.9,8.0],[27.2,7.0],[27.6,7.67],[28.0,8.0],[28.3,7.0],[28.7,8.0],[29.0,7.33],[29.4,7.67],[29.8,8.0],[30.1,7.0],[30.5,7.67],[30.8,7.67],[31.1,8.33],[31.4,7.0],[31.7,7.67],[32.1,7.67],[32.5,7.33],[32.9,7.33],[33.3,8.0],[33.6,7.67],[34.0,7.67],[34.4,7.33],[34.8,7.33],[35.2,7.67],[35.6,7.33],[35.9,7.67],[36.3,7.33],[36.7,7.67],[37.1,7.33],[37.5,7.67],[37.9,7.33],[38.3,7.67],[38.7,7.33],[39.2,7.33],[39.5,8.0],[40.5,8.0],[40.8,7.67],[41.5,7.67],[41.8,8.0],[43.8,8.0],[44.1,7.67],[44.4,8.0],[44.7,7.67],[45.0,8.0],[45.4,7.67],[45.7,8.0],[46.4,8.0],[46.7,7.67],[47.0,8.0],[48.2,8.0],[48.5,7.67],[48.8,8.0],[49.3,8.0],[49.6,7.67],[49.9,8.0],[50.2,8.0],[50.5,7.67],[50.8,8.0],[56.1,8.0],[56.4,7.67],[56.7,8.0],[57.0,7.67],[57.3,8.0],[100,8.0]];

// ---------------- LAYOUT / STYLE ----------------
const BLUE = "#0000ff", GREEN = "#007f00", MAG = "#ff00ff";
const colX = [[68.3, 564.3], [593.3, 1089.3]];
const rowY = {top: [124.7, 386.5], mid: [386.5, 648.3], bot: [648.3, 910.7]};
const topLabelShift = [[-6, -12, -7, -5, -11], [8, -7, -1, 1, -3]];

const svg = d3.select("#chart");
const xs = colX.map(r => d3.scaleLinear().domain([0, 100]).range(r));
const yDistTop = d3.scaleLog().domain([0.0802, 12.19]).range([386.5, 124.7]);
const yDistMid = d3.scaleLog().domain([0.0800, 12.17]).range([648.3, 386.5]);
const yNaCount = d3.scaleLinear().domain([-0.102, 4.49]).range([386.5, 124.7]);
const yLaCount = d3.scaleLinear().domain([0, 3.506]).range([648.3, 386.5]);
const yCharge = d3.scaleLinear().domain([0, 11.52]).range([910.7, 648.3]);

const defs = svg.append("defs");
Object.keys(rowY).forEach(r => colX.forEach((c, i) => {
  defs.append("clipPath").attr("id", `clip-${r}-${i}`).append("rect")
    .attr("x", c[0]).attr("y", rowY[r][0]).attr("width", c[1] - c[0]).attr("height", rowY[r][1] - rowY[r][0]);
}));

function drawDots(col, row, data, y, color, r) {
  svg.append("g").attr("clip-path", `url(#clip-${row}-${col})`)
    .selectAll("circle").data(data).join("circle")
    .attr("cx", d => xs[col](d[0])).attr("cy", d => y(d[1])).attr("r", r).attr("fill", color);
}
function drawLine(col, row, data, y, color, w) {
  svg.append("path").attr("clip-path", `url(#clip-${row}-${col})`)
    .datum(data)
    .attr("d", d3.line().x(d => xs[col](d[0])).y(d => y(d[1])))
    .attr("fill", "none").attr("stroke", color).attr("stroke-width", w).attr("stroke-linejoin", "round");
}
const pairsFrom = (vals, start) => vals.map((v, i) => [start + i, v]);

// ---- top row: A, D
drawDots(0, "top", naFreeA, yDistTop, BLUE, 1.85);
drawLine(0, "top", naCountA, yNaCount, MAG, 1.2);
drawDots(1, "top", naFreeD, yDistTop, BLUE, 1.85);
const naBoundPairs = pairsFrom(naBoundD, naBoundStart);
drawLine(1, "top", naBoundPairs, yDistTop, BLUE, 1.4);
drawDots(1, "top", naBoundPairs, yDistTop, BLUE, 1.9);
drawLine(1, "top", naCountD, yNaCount, MAG, 1.2);

// ---- middle row: B, E
drawLine(0, "mid", laCountB, yLaCount, MAG, 1.2);
drawLine(1, "mid", laCountE, yLaCount, MAG, 1.2);
const laBPairs = pairsFrom(laBoundB, 0), laEPairs = pairsFrom(laBoundE, 0);
drawLine(0, "mid", laBPairs, yDistMid, GREEN, 4.2);
drawDots(0, "mid", laBPairs, yDistMid, GREEN, 2.1);
drawLine(1, "mid", laEPairs, yDistMid, GREEN, 4.2);
drawDots(1, "mid", laEPairs, yDistMid, GREEN, 2.1);
drawDots(0, "mid", laFreeB, yDistMid, GREEN, 1.75);
drawDots(1, "mid", laFreeE, yDistMid, GREEN, 1.75);

// ---- bottom row: C, F
drawLine(0, "bot", chargeC, yCharge, MAG, 1.2);
drawLine(1, "bot", chargeF, yCharge, MAG, 1.2);

// ---------------- FRAMES ----------------
colX.forEach(c => {
  [rowY.top[0], rowY.mid[0], rowY.bot[0], rowY.bot[1]].forEach(y => {
    svg.append("line").attr("x1", c[0]).attr("x2", c[1]).attr("y1", y).attr("y2", y)
      .attr("stroke", "#666").attr("stroke-width", 1.6);
  });
  [c[0], c[1]].forEach(x => {
    svg.append("line").attr("x1", x).attr("x2", x).attr("y1", rowY.top[0]).attr("y2", rowY.bot[1])
      .attr("stroke", "#111").attr("stroke-width", 1.3);
  });
});

// ---------------- AXES ----------------
function styleAxis(g, color, size) {
  g.select(".domain").remove();
  g.selectAll(".tick line").attr("stroke", "#222").attr("stroke-width", 1.2);
  g.selectAll(".tick text").attr("fill", color).attr("font-size", size)
    .attr("font-family", '"Liberation Sans", Arial, sans-serif');
}
xs.forEach((x, ci) => {
  svg.append("g").attr("transform", `translate(0,${rowY.top[0]})`)
    .call(d3.axisTop(x).tickValues(xTicks).tickFormat((d, i) => waterLabels[i]).tickSize(5).tickPadding(13))
    .call(g => styleAxis(g, "#000", 17))
    .call(g => g.selectAll(".tick text").attr("dx", (d, i) => topLabelShift[ci][i]));
  svg.append("g").attr("transform", `translate(0,${rowY.bot[1]})`)
    .call(d3.axisBottom(x).tickValues(xTicks).tickFormat(d3.format("d")).tickSize(5).tickPadding(13))
    .call(g => styleAxis(g, "#000", 18));
});
const fmtDist = d => d === 0.1 ? "0.1" : String(d);
svg.append("g").attr("transform", `translate(${colX[0][0]},0)`)
  .call(d3.axisLeft(yDistTop).tickValues(distTicks).tickFormat(fmtDist).tickSize(6).tickPadding(9))
  .call(g => styleAxis(g, BLUE, 17));
svg.append("g").attr("transform", `translate(${colX[0][0]},0)`)
  .call(d3.axisLeft(yDistMid).tickValues(distTicks).tickFormat(fmtDist).tickSize(6).tickPadding(9))
  .call(g => styleAxis(g, GREEN, 17));
svg.append("g").attr("transform", `translate(${colX[0][0]},0)`)
  .call(d3.axisLeft(yCharge).tickValues(chargeTicks).tickFormat(d3.format("d")).tickSize(6).tickPadding(9))
  .call(g => styleAxis(g, MAG, 18));
svg.append("g").attr("transform", `translate(${colX[1][1]},0)`)
  .call(d3.axisRight(yNaCount).tickValues(naCountTicks).tickFormat(d3.format("d")).tickSize(6).tickPadding(6))
  .call(g => styleAxis(g, MAG, 18));
svg.append("g").attr("transform", `translate(${colX[1][1]},0)`)
  .call(d3.axisRight(yLaCount).tickValues(laCountTicks).tickFormat(d3.format("d")).tickSize(6).tickPadding(6))
  .call(g => styleAxis(g, MAG, 18));
svg.append("g").attr("transform", `translate(${colX[1][1]},0)`)
  .call(d3.axisRight(yCharge).tickValues(chargeTicks).tickFormat(d3.format("d")).tickSize(6).tickPadding(6))
  .call(g => styleAxis(g, MAG, 18));

// ---------------- TEXT ----------------
function txt(x, y, main, sup, opts) {
  const o = Object.assign({size: 19, color: "#000", anchor: "start", weight: "normal", rotate: 0, supSize: 0.65, supDy: 0.45}, opts || {});
  const t = svg.append("text")
    .attr("transform", `translate(${x},${y})` + (o.rotate ? ` rotate(${o.rotate})` : ""))
    .attr("font-size", o.size).attr("fill", o.color).attr("text-anchor", o.anchor).attr("font-weight", o.weight);
  t.append("tspan").text(main);
  if (sup) t.append("tspan").attr("font-size", o.size * o.supSize).attr("dy", -o.size * o.supDy).text(sup);
  return t;
}
txt(338, 33, "Ubq, 50% La", "3+", {size: 28, anchor: "middle", supSize: 0.6, supDy: 0.33});
txt(867, 33, "Ubq, 33% La", "3+", {size: 28, anchor: "middle", supSize: 0.6, supDy: 0.33});
txt(310, 68, "Percent Water Remaining", null, {size: 20.5, anchor: "middle"});
txt(836, 68, "Percent Water Remaining", null, {size: 20.5, anchor: "middle"});
txt(316, 970, "Time (ns)", null, {size: 20, anchor: "middle"});
txt(841, 970, "Time (ns)", null, {size: 20, anchor: "middle"});
txt(25, 396, "Metal Distance from Protein (nm)", null, {size: 21, anchor: "middle", rotate: -90});
txt(23.5, 780, "Protein Charge State", null, {size: 18.5, anchor: "middle", rotate: -90, color: MAG});
txt(1145, 241, "Number of Bound Na", "+", {size: 20.5, anchor: "middle", rotate: -90, color: MAG});
txt(1145, 502, "Number of Bound La", "3+", {size: 20.5, anchor: "middle", rotate: -90, color: MAG});
txt(1143, 797, "Protein Charge State", null, {size: 21, anchor: "middle", rotate: -90, color: MAG});
[["A", 0, rowY.top], ["B", 0, rowY.mid], ["C", 0, rowY.bot], ["D", 1, rowY.top], ["E", 1, rowY.mid], ["F", 1, rowY.bot]]
  .forEach(([L, c, r]) => txt(colX[c][1] - 9.5, r[0] + 35, L, null, {size: 24, anchor: "end", weight: "bold"}));
txt(185, 165, "free Na", "+", {size: 19.5, color: BLUE});
txt(703, 165, "free Na", "+", {size: 19.5, color: BLUE});
txt(968, 357, "bound Na", "+", {size: 19.5, color: BLUE});
txt(118, 427, "free La", "3+", {size: 19.5, color: GREEN});
txt(617, 427, "free La", "3+", {size: 19.5, color: GREEN});
txt(163, 620, "bound La", "3+", {size: 19.5, color: GREEN});
txt(677, 617, "bound La", "3+", {size: 19.5, color: GREEN});
</script></body></html>
